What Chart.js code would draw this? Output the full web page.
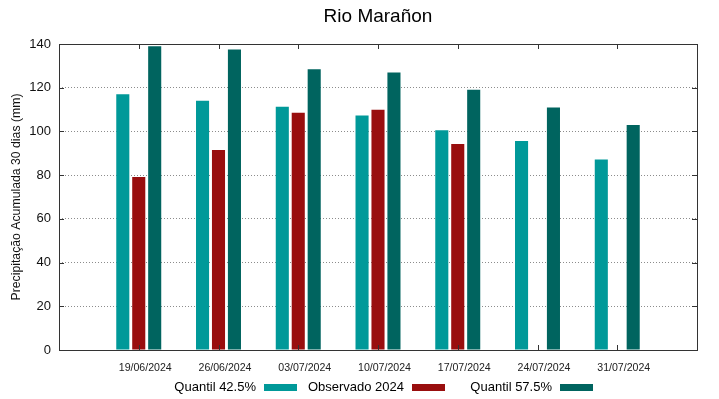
<!DOCTYPE html>
<html>
<head>
<meta charset="utf-8">
<script src="https://cdn.jsdelivr.net/npm/chart.js@4.4.1/dist/chart.umd.min.js"></script>
<style>
  html, body { margin: 0; padding: 0; background: #fff; }
  #wrap { width: 719px; height: 399px; }
</style>
</head>
<body>
<div id="wrap"><canvas id="chuva"></canvas></div>
<script>
const titulo = 'Rio Marañon';
const datas = ['19/06/2024', '26/06/2024', '03/07/2024', '10/07/2024', '17/07/2024', '24/07/2024', '31/07/2024'];
const quantil425 = [117, 114, 111.3, 107.3, 100.5, 95.6, 87.2];
const observado2024 = [79.1, 91.5, 108.6, 109.9, 94.2, null, null];
const quantil575 = [139, 137.5, 128.4, 127, 119.1, 111, 102.9];
const yTicks = [0, 20, 40, 60, 80, 100, 120, 140];

const FONTE = "'Liberation Sans', Arial, sans-serif";

// empty slot on each side, like the gnuplot x range
const rotulos = ['', ...datas, ''];
const pad = arr => [null, ...arr, null];

// box around the plot, inward ticks, title and legend in gnuplot style
const estiloGnuplot = {
    id: 'estiloGnuplot',
    afterDraw(chart) {
        const { ctx, chartArea: a, scales } = chart;
        ctx.save();
        ctx.strokeStyle = '#333';
        ctx.lineWidth = 1;
        ctx.strokeRect(Math.round(a.left) + 0.5, Math.round(a.top) + 0.5,
            Math.round(a.right - a.left), Math.round(a.bottom - a.top));

        ctx.beginPath();
        yTicks.forEach(v => {
            const y = Math.round(scales.y.getPixelForValue(v)) + 0.5;
            ctx.moveTo(a.left, y); ctx.lineTo(a.left + 5, y);
            ctx.moveTo(a.right, y); ctx.lineTo(a.right - 5, y);
        });
        datas.forEach((d, i) => {
            const x = Math.round(scales.x.getPixelForValue(i + 1)) + 0.5;
            ctx.moveTo(x, a.bottom); ctx.lineTo(x, a.bottom - 5);
            ctx.moveTo(x, a.top); ctx.lineTo(x, a.top + 5);
        });
        ctx.stroke();

        // title
        ctx.fillStyle = '#000';
        ctx.font = '19px ' + FONTE;
        ctx.textAlign = 'center';
        ctx.textBaseline = 'middle';
        ctx.fillText(titulo, (a.left + a.right) / 2, 17);

        // legend: text then sample
        ctx.font = '13px ' + FONTE;
        ctx.textAlign = 'right';
        const yLeg = 387;
        chart.data.datasets.forEach((ds, i) => {
            const xs = 264 + i * 148;
            ctx.fillStyle = '#000';
            ctx.fillText(ds.label, xs - 8, yLeg);
            ctx.fillStyle = ds.backgroundColor;
            ctx.fillRect(xs, yLeg - 3, 33, 7);
        });
        ctx.restore();
    }
};

new Chart(document.getElementById('chuva').getContext('2d'), {
    type: 'bar',
    data: {
        labels: rotulos,
        datasets: [
            {
                label: 'Quantil 42.5%',
                data: pad(quantil425),
                backgroundColor: '#009999'
            },
            {
                label: 'Observado 2024',
                data: pad(observado2024),
                backgroundColor: '#990e0e'
            },
            {
                label: 'Quantil 57.5%',
                data: pad(quantil575),
                backgroundColor: '#00645f'
            }
        ]
    },
    options: {
        responsive: true,
        maintainAspectRatio: false,
        animation: false,
        layout: { padding: { top: 44, right: 22, left: 0, bottom: 0 } },
        datasets: {
            bar: { categoryPercentage: 0.6, barPercentage: 0.82, skipNull: false }
        },
        plugins: {
            legend: { display: false },
            tooltip: { enabled: false }
        },
        scales: {
            x: {
                offset: false,
                grid: { display: false, drawTicks: false },
                border: { display: false },
                ticks: {
                    color: '#222',
                    font: { family: FONTE, size: 10.6 },
                    padding: 12,
                    labelOffset: 6.5,
                    maxRotation: 0,
                    autoSkip: false
                },
                afterFit(scale) { scale.height = 49; }
            },
            y: {
                min: 0,
                max: 140,
                grid: {
                    color: '#8c8c8c',
                    lineWidth: 1,
                    drawTicks: false
                },
                border: { display: false, dash: [1, 2] },
                ticks: {
                    stepSize: 20,
                    color: '#111',
                    font: { family: FONTE, size: 13 },
                    padding: 8
                },
                title: {
                    display: true,
                    text: 'Precipitação Acumulada 30 dias (mm)',
                    color: '#111',
                    font: { family: FONTE, size: 12.25 },
                    padding: { top: 9, bottom: 0 }
                },
                afterFit(scale) { scale.width = 59; }
            }
        }
    },
    plugins: [estiloGnuplot]
});
</script>
</body>
</html>
